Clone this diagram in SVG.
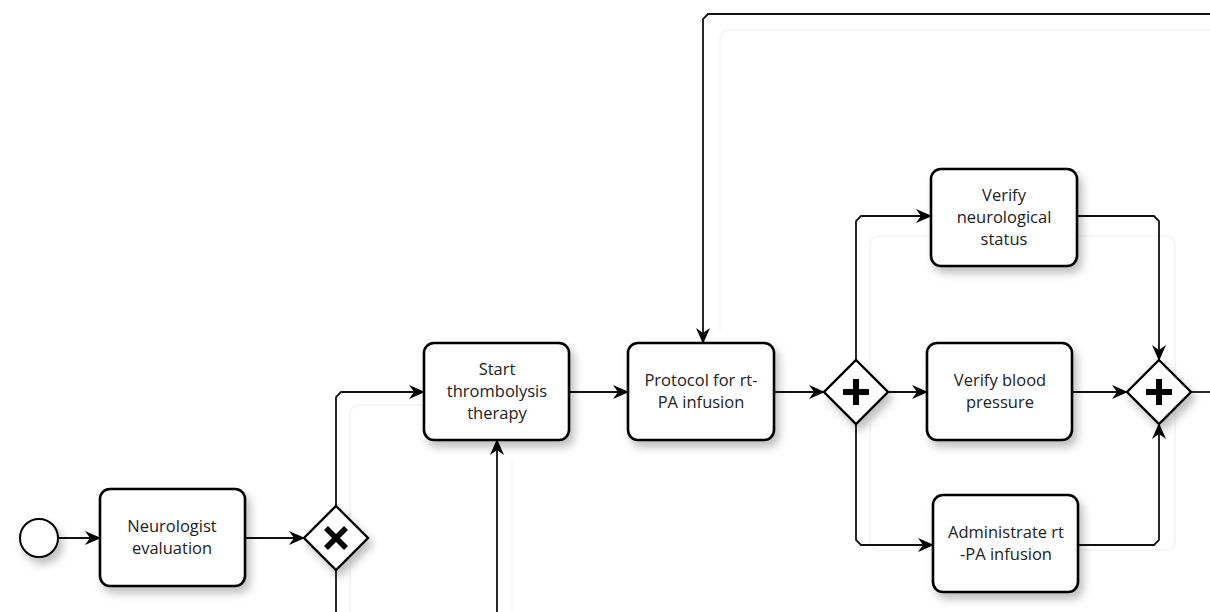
<svg xmlns="http://www.w3.org/2000/svg" width="1210" height="612" viewBox="0 0 1210 612">
<defs>
<style>
.task{fill:#fff;stroke:#000;stroke-width:2.6}
.gw{fill:#fff;stroke:#000;stroke-width:2.4}
.lbl{font-family:"Open Sans","Noto Sans",sans-serif;font-size:16.5px;fill:#222;text-anchor:middle}
.flow{fill:none;stroke:#111;stroke-width:1.8}
.ghost{fill:none;stroke:#f3f3f3;stroke-width:1.5}
</style>
<filter id="sh" x="-20%" y="-20%" width="150%" height="160%">
<feDropShadow dx="4" dy="6" stdDeviation="4" flood-color="#000" flood-opacity="0.25"/>
</filter>
<marker id="arr" markerWidth="16" markerHeight="14" refX="15" refY="7" orient="auto" markerUnits="userSpaceOnUse">
<path d="M0,0 L16,7 L0,14 L5,7 Z" fill="#000"/>
</marker>
</defs>
<rect width="1210" height="612" fill="#fff"/>
<g id="ghosts">
<path class="ghost" d="M1210,30 H730 Q720,30 720,40 V330"/>
<path class="ghost" d="M870,360 V245 Q870,236 880,236 H1166 Q1175,236 1175,245 V440"/>
<path class="ghost" d="M870,424 V540 Q870,550 880,550 H1166 Q1175,550 1175,540 V440"/>
<path class="ghost" d="M350,612 V415 Q350,405 360,405 H424"/>
<path class="ghost" d="M512,612 V460"/>
</g>
<g id="connectors">
<path class="flow" d="M58,538 H100" marker-end="url(#arr)"/>
<path class="flow" d="M245,538 H304" marker-end="url(#arr)"/>
<path class="flow" d="M336,506 V397 L341,392 H424" marker-end="url(#arr)"/>
<path class="flow" d="M336,570 V612"/>
<path class="flow" d="M497,612 V440" marker-end="url(#arr)"/>
<path class="flow" d="M569,392 H628" marker-end="url(#arr)"/>
<path class="flow" d="M1210,14 H708 L703,19 V343" marker-end="url(#arr)"/>
<path class="flow" d="M774,392 H824" marker-end="url(#arr)"/>
<path class="flow" d="M888,392 H927" marker-end="url(#arr)"/>
<path class="flow" d="M856,360 V221 L861,216 H931" marker-end="url(#arr)"/>
<path class="flow" d="M856,424 V540 L861,545 H933" marker-end="url(#arr)"/>
<path class="flow" d="M1077,216 H1154 L1159,221 V360" marker-end="url(#arr)"/>
<path class="flow" d="M1078,545 H1154 L1159,540 V424" marker-end="url(#arr)"/>
<path class="flow" d="M1072,392 H1127" marker-end="url(#arr)"/>
<path class="flow" d="M1191,392 H1210"/>
</g>
<g id="start">
<circle cx="39" cy="538" r="19" fill="#fff" stroke="#000" stroke-width="2" filter="url(#sh)"/>
</g>
<g id="neuro_eval">
<rect class="task" x="100" y="489" width="145" height="97" rx="10" filter="url(#sh)"/>
<text class="lbl" x="172" y="532">Neurologist</text>
<text class="lbl" x="172" y="554">evaluation</text>
</g>
<g id="xor">
<path class="gw" d="M336,506 L368,538 L336,570 L304,538 Z" filter="url(#sh)"/>
<path d="M326,528 L346,548 M346,528 L326,548" stroke="#000" stroke-width="5.5" stroke-linecap="butt"/>
</g>
<g id="start_thrombolysis">
<rect class="task" x="424" y="343" width="145" height="97" rx="10" filter="url(#sh)"/>
<text class="lbl" x="497" y="375">Start</text>
<text class="lbl" x="497" y="397">thrombolysis</text>
<text class="lbl" x="497" y="419">therapy</text>
</g>
<g id="protocol">
<rect class="task" x="628" y="343" width="146" height="97" rx="10" filter="url(#sh)"/>
<text class="lbl" x="701" y="386">Protocol for rt-</text>
<text class="lbl" x="701" y="408">PA infusion</text>
</g>
<g id="and_split">
<path class="gw" d="M856,360 L888,392 L856,424 L824,392 Z" filter="url(#sh)"/>
<path d="M856,379 V405 M843,392 H869" stroke="#000" stroke-width="6"/>
</g>
<g id="verify_neuro">
<rect class="task" x="931" y="169" width="146" height="97" rx="10" filter="url(#sh)"/>
<text class="lbl" x="1004" y="201">Verify</text>
<text class="lbl" x="1004" y="223">neurological</text>
<text class="lbl" x="1004" y="245">status</text>
</g>
<g id="verify_bp">
<rect class="task" x="927" y="343" width="145" height="97" rx="10" filter="url(#sh)"/>
<text class="lbl" x="1000" y="386">Verify blood</text>
<text class="lbl" x="1000" y="408">pressure</text>
</g>
<g id="administrate">
<rect class="task" x="933" y="495" width="145" height="97" rx="10" filter="url(#sh)"/>
<text class="lbl" x="1006" y="538">Administrate rt</text>
<text class="lbl" x="1006" y="560">-PA infusion</text>
</g>
<g id="and_join">
<path class="gw" d="M1159,360 L1191,392 L1159,424 L1127,392 Z" filter="url(#sh)"/>
<path d="M1159,379 V405 M1146,392 H1172" stroke="#000" stroke-width="6"/>
</g>
</svg>
